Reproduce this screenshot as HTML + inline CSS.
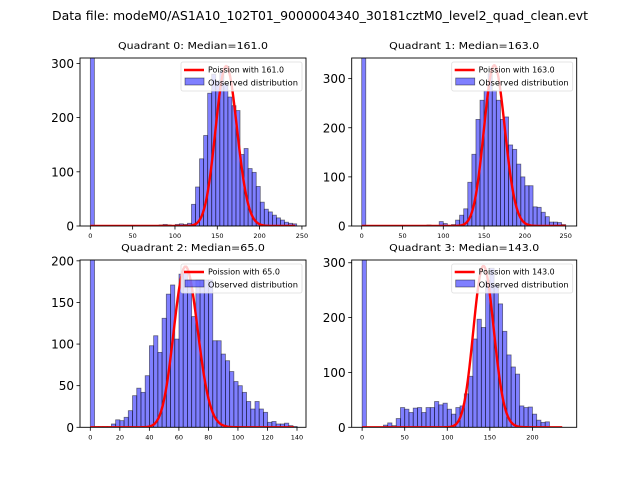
<!DOCTYPE html>
<html><head><meta charset="utf-8"><style>
body{margin:0;background:#fff}
svg{display:block;font-family:"DejaVu Sans","Liberation Sans",sans-serif}
</style></head><body>
<svg id="fig" width="640" height="480" xmlns="http://www.w3.org/2000/svg">
<rect width="640" height="480" fill="#fff"/>
<text x="320" y="20" text-anchor="middle" font-size="12" textLength="536" lengthAdjust="spacingAndGlyphs">Data file: modeM0/AS1A10_102T01_9000004340_30181cztM0_level2_quad_clean.evt</text>
</svg>
<script>
// ---- data ----
const quadTitles = ["Quadrant 0: Median=161.0","Quadrant 1: Median=163.0","Quadrant 2: Median=65.0","Quadrant 3: Median=143.0"];
const medians = [161, 163, 65, 143];
const binWidths = [4.78, 5.0, 2.86, 5.0];
const counts0 = [1000,0,0,0,0,0,0,0,0,0,0,0,0,0,0,0,0,2,3,2,1,3,4,3,5,40,72,124,167,245,280,268,286,262,238,222,213,132,143,106,99,73,44,31,26,20,15,11,7,5,4];
const counts1 = [1000,0,0,0,0,0,0,0,0,0,0,0,0,0,0,0,2,0,0,9,5,0,3,12,22,35,89,146,217,256,275,310,276,256,217,222,165,156,126,100,82,82,39,38,28,19,8,8,7,3];
const counts2 = [1000,1,1,1,1,4,9,8,12,20,38,47,42,62,98,110,90,131,160,171,106,184,188,177,133,177,177,177,177,104,104,88,80,67,55,50,42,31,22,31,22,18,6,7,4,4,5,2,1];
const counts3 = [1000,0,0,0,0,4,8,3,16,36,33,27,35,36,27,36,36,47,41,44,33,24,36,39,61,93,161,197,182,268,290,260,225,175,132,110,97,39,36,37,24,13,9,10];
const curvePeaks = [295, 327, 193, 294];
const curveMax = [242, 250, 138, 235];
const xTicks0 = [0,50,100,150,200,250];
const xTicks2 = [0,20,40,60,80,100,120,140];
const xTicks3 = [0,50,100,150,200];
const yTicks0 = [0,100,200,300];
const yTicks2 = [0,50,100,150,200];
const legendLabels = ["Poission with 161.0","Poission with 163.0","Poission with 65.0","Poission with 143.0"];

const allCounts=[counts0,counts1,counts2,counts3];
const allXTicks=[xTicks0,xTicks0,xTicks2,xTicks3];
const allYTicks=[yTicks0,yTicks0,yTicks2,yTicks0];
const boxes=[{l:80,t:58,r:306,b:226,x0:-12.2,x1:254.8,y1:310},
             {l:351.7,t:58,r:576.7,b:226,x0:-12.25,x1:263.5,y1:342},
             {l:80,t:260,r:306,b:427.3,x0:-6.98,x1:146.1,y1:201},
             {l:351.7,t:260,r:576.7,b:427.3,x0:-12.25,x1:252,y1:305}];
const NS="http://www.w3.org/2000/svg";
const svg=document.getElementById('fig');
function mk(tag,attrs,parent){const e=document.createElementNS(NS,tag);for(const k in attrs)e.setAttribute(k,attrs[k]);(parent||svg).appendChild(e);return e;}
function lnfact(k){let s=0;for(let i=2;i<=k;i++)s+=Math.log(i);return s;}

boxes.forEach((B,q)=>{
  const g=mk('g',{});
  
  
  const xs=v=>B.l+(v-B.x0)/(B.x1-B.x0)*(B.r-B.l);
  const ys=v=>B.b-v/B.y1*(B.b-B.t);
  const clip=mk('clipPath',{id:'c'+q},g);
  mk('rect',{x:B.l,y:B.t,width:B.r-B.l,height:B.b-B.t},clip);
  const bars=mk('g',{'clip-path':'url(#c'+q+')'},g);
  const cs=allCounts[q], bw=binWidths[q];
  cs.forEach((c,i)=>{
    if(c<=0)return;
    const r=mk('rect',{x:xs(i*bw),y:ys(c),width:xs((i+1)*bw)-xs(i*bw),height:B.b-ys(c),fill:'rgba(0,0,255,0.5)',stroke:'rgba(0,0,0,0.5)','stroke-width':'0.8'},bars);
    
    
  });
  const lam=medians[q];
  const lp=k=>k*Math.log(lam)-lam-lnfact(k);
  const mode=Math.floor(lam);
  const scale=curvePeaks[q]/Math.exp(lp(mode));
  let d='';
  for(let k=0;k<=curveMax[q];k++){d+=(k?'L':'M')+xs(k).toFixed(2)+','+ys(scale*Math.exp(lp(k))).toFixed(2);}
  const pl=mk('path',{d:d,fill:'none',stroke:'#ff0000','stroke-width':'2.4','stroke-linejoin':'round'},bars);
  
  
  const fr=mk('rect',{x:B.l,y:B.t,width:B.r-B.l,height:B.b-B.t,fill:'none',stroke:'#000','stroke-width':'0.9'},g);
  
  
  allXTicks[q].forEach(v=>{
    const x=xs(v);
    mk('line',{x1:x,x2:x,y1:B.b,y2:B.b+3.5,stroke:'#000','stroke-width':'0.8'},g);
    const t=mk('text',{x:x,y:B.b+12,'text-anchor':'middle','font-size':'6.5'},g);
    t.textContent=v;
    
    
  });
  allYTicks[q].forEach(v=>{
    const y=ys(v);
    mk('line',{x1:B.l-3.5,x2:B.l,y1:y,y2:y,stroke:'#000','stroke-width':'0.8'},g);
    const t=mk('text',{x:B.l-6,y:y+4.5,'text-anchor':'end','font-size':'12'},g);
    t.textContent=v;
    
    
  });
  const ti=mk('text',{x:(B.l+B.r)/2,y:B.t-9,'text-anchor':'middle','font-size':'10',textLength:quadTitles[q].length*6.25,lengthAdjust:'spacingAndGlyphs'},g);
  ti.textContent=quadTitles[q];
  
  
  const lx=B.r-125, ly=B.t+4;
  const lg=mk('g',{},g);
  
  
  mk('rect',{x:lx,y:ly,width:121,height:29,rx:2,fill:'rgba(255,255,255,0.8)',stroke:'#ddd','stroke-width':'0.8'},lg);
  mk('line',{x1:lx+3,x2:lx+23,y1:ly+8,y2:ly+8,stroke:'#ff0000','stroke-width':'2.4'},lg);
  const t1=mk('text',{x:lx+27,y:ly+10.5,'font-size':'7.5',textLength:legendLabels[q].length*4.0,lengthAdjust:'spacingAndGlyphs'},lg);
  t1.textContent=legendLabels[q];
  
  
  mk('rect',{x:lx+4,y:ly+16,width:19,height:7,fill:'rgba(0,0,255,0.5)',stroke:'rgba(0,0,0,0.5)','stroke-width':'0.8'},lg);
  const t2=mk('text',{x:lx+27,y:ly+23.5,'font-size':'7.5',textLength:'90',lengthAdjust:'spacingAndGlyphs'},lg);
  t2.textContent='Observed distribution';
  
  
});
</script>
</body></html>
